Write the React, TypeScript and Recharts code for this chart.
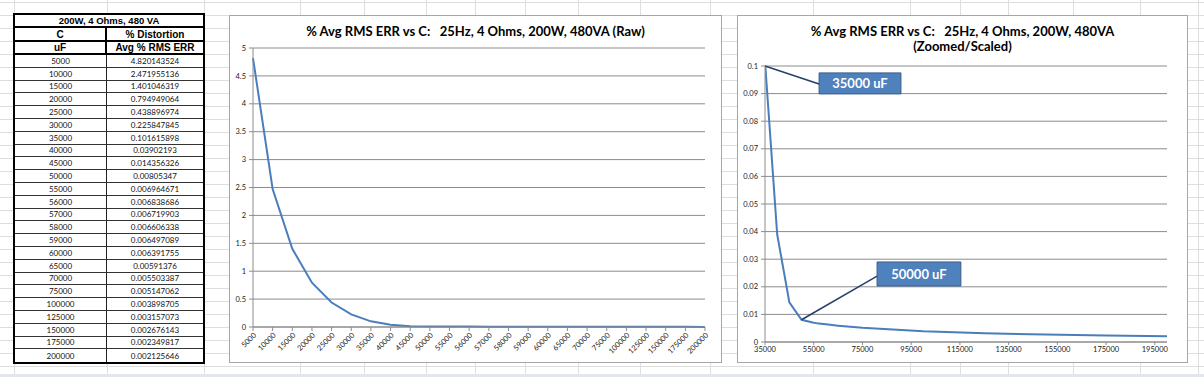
import { LineChart, Line, XAxis, YAxis, CartesianGrid, ReferenceArea, ReferenceLine } from 'recharts';

// capacitance (uF) and average % RMS error, read from the sheet
const capacitance = [
  5000, 10000, 15000, 20000, 25000, 30000, 35000, 40000, 45000, 50000,
  55000, 56000, 57000, 58000, 59000, 60000, 65000, 70000, 75000,
  100000, 125000, 150000, 175000, 200000,
];
const rmsErrText = [
  '4.820143524', '2.471955136', '1.401046319', '0.794949064', '0.438896974',
  '0.225847845', '0.101615898', '0.03902193', '0.014356326', '0.00805347',
  '0.006964671', '0.006838686', '0.006719903', '0.006606338', '0.006497089',
  '0.006391755', '0.00591376', '0.005503387', '0.005147062', '0.003898705',
  '0.003157073', '0.002676143', '0.002349817', '0.002125646',
];
const rmsErr = rmsErrText.map(Number);

const rawTicks = [0, 0.5, 1, 1.5, 2, 2.5, 3, 3.5, 4, 4.5, 5];
const zoomYTicks = [0, 0.01, 0.02, 0.03, 0.04, 0.05, 0.06, 0.07, 0.08, 0.09, 0.1];
const zoomXTicks = [35000, 55000, 75000, 95000, 115000, 135000, 155000, 175000, 195000];

// callout anchors (uF, value where the line is drawn)
const callout35 = { c: 35000, v: 0.1, text: '35000 uF' };
const callout50 = { c: 50000, v: 0.00805347, text: '50000 uF' };

const tableTitle = '200W, 4 Ohms, 480 VA';
const rawTitle = '% Avg RMS ERR vs C:   25Hz, 4 Ohms, 200W, 480VA (Raw)';
const zoomTitle = ['% Avg RMS ERR vs C:   25Hz, 4 Ohms, 200W, 480VA', '(Zoomed/Scaled)'];

const chartData = capacitance.map((c, i) => ({ c, label: String(c), v: rmsErr[i] }));

const FONT = 'Lato, "Open Sans", sans-serif';
const LINE = '#4A7EBB';
const GRID = '#8c8c8c';
const tickStyle = { fontSize: 7.5, fill: '#222', fontFamily: FONT };

// spreadsheet column lines behind everything
const sheetCols = [14, 107, 204, 300, 364, 426, 475, 525, 578, 640, 710, 813, 910, 960, 1008, 1073, 1140, 1198];

const fmt = (v: number) => String(+v.toFixed(2));

const DataTable = () => {
  const cell = (w: number | string, extra = {}) => ({
    width: w, display: 'flex', alignItems: 'center', justifyContent: 'center', boxSizing: 'border-box' as const, ...extra,
  });
  const head = { fontFamily: '"Liberation Sans", Arial, sans-serif', fontWeight: 700, fontSize: 9.5, color: '#000' };
  return (
    <div style={{ position: 'absolute', left: 13, top: 13, width: 192, border: '2px solid #000', boxSizing: 'border-box', background: '#fff' }}>
      <div style={{ height: 13, borderBottom: '2px solid #000', boxSizing: 'border-box', ...cell('100%'), ...head }}>{tableTitle}</div>
      <div style={{ height: 14, display: 'flex', borderBottom: '2px solid #000', boxSizing: 'border-box', ...head, fontSize: 10 }}>
        <div style={cell(92, { borderRight: '2px solid #000' })}>C</div>
        <div style={cell(96)}>% Distortion</div>
      </div>
      <div style={{ height: 13, display: 'flex', borderBottom: '2px solid #000', boxSizing: 'border-box', ...head, fontSize: 10 }}>
        <div style={cell(92, { borderRight: '2px solid #000' })}>uF</div>
        <div style={cell(96)}>Avg % RMS ERR</div>
      </div>
      {capacitance.map((c, i) => (
        <div key={c} style={{
          height: 12.8, display: 'flex', boxSizing: 'border-box',
          borderBottom: i === capacitance.length - 1 ? 'none' : '1px solid #333',
          fontFamily: FONT, fontSize: 8, color: '#111',
        }}>
          <div style={cell(92, { borderRight: '1px solid #222' })}>{c}</div>
          <div style={cell(96)}>{rmsErrText[i]}</div>
        </div>
      ))}
    </div>
  );
};

const boxStyle = (left: number, width: number) => ({
  position: 'absolute' as const, left, top: 15, width, height: 348,
  border: '1px solid #a6a6a6', boxSizing: 'border-box' as const, background: '#fff',
});

const titleStyle = {
  position: 'absolute' as const, left: 0, right: 0, top: 8, textAlign: 'center' as const,
  fontFamily: FONT, fontWeight: 700, fontSize: 13, lineHeight: '15px', color: '#000', whiteSpace: 'pre' as const,
};

const calloutLabel = (value: string) => ({
  value, position: 'center' as const, fill: '#fff', fontSize: 13, fontWeight: 700, fontFamily: FONT,
});

const RawChart = () => (
  <div style={boxStyle(229, 493)}>
    <div style={titleStyle}>{rawTitle}</div>
    <LineChart width={491} height={346} data={chartData} margin={{ top: 32, right: 16, left: 0, bottom: 0 }}>
      <CartesianGrid vertical={false} stroke={GRID} />
      <XAxis dataKey="label" interval={0} height={35} stroke={GRID} tickSize={4} tickMargin={1}
        tick={{ ...tickStyle, angle: -45, textAnchor: 'end' }} />
      <YAxis type="number" domain={[0, 5]} ticks={rawTicks} width={23} stroke={GRID} tickSize={4} tickMargin={3}
        tick={tickStyle} />
      <Line type="linear" dataKey="v" stroke={LINE} strokeWidth={2} dot={false} isAnimationActive={false} />
    </LineChart>
  </div>
);

const ZoomChart = () => (
  <div style={boxStyle(737, 451)}>
    <div style={titleStyle}>{zoomTitle[0]}<br />{zoomTitle[1]}</div>
    <LineChart width={449} height={346} data={chartData} margin={{ top: 50, right: 20, left: 0, bottom: 0 }}>
      <CartesianGrid vertical={false} stroke={GRID} />
      <XAxis dataKey="c" type="number" domain={[35000, 200000]} allowDataOverflow ticks={zoomXTicks} interval={0}
        height={20} stroke={GRID} tickSize={3} tickMargin={2} tick={tickStyle} />
      <YAxis type="number" domain={[0, 0.1]} allowDataOverflow ticks={zoomYTicks} tickFormatter={fmt} width={27}
        stroke={GRID} tickSize={4} tickMargin={3} tick={tickStyle} />
      <Line type="linear" dataKey="v" stroke={LINE} strokeWidth={2} dot={false} isAnimationActive={false} />
      <ReferenceLine segment={[{ x: callout35.c, y: callout35.v }, { x: 57200, y: 0.0935 }]} stroke="#243F6B" strokeWidth={1.5} />
      <ReferenceArea x1={57200} x2={90800} y1={0.0899} y2={0.0975} fill="#4F81BD" fillOpacity={1} stroke="#385D8A" strokeWidth={1}
        label={calloutLabel(callout35.text)} />
      <ReferenceLine segment={[{ x: callout50.c, y: callout50.v }, { x: 81000, y: 0.0239 }]} stroke="#243F6B" strokeWidth={1.5} />
      <ReferenceArea x1={81000} x2={115400} y1={0.0203} y2={0.029} fill="#4F81BD" fillOpacity={1} stroke="#385D8A" strokeWidth={1}
        label={calloutLabel(callout50.text)} />
    </LineChart>
  </div>
);

export default function App() {
  return (
    <div style={{
      position: 'absolute', left: 0, top: 0, width: 1204, height: 377, overflow: 'hidden', background: '#fff',
      backgroundImage: 'repeating-linear-gradient(to bottom, transparent 0px, transparent 2px, #dedede 2px, #dedede 3px, transparent 3px, transparent 13px)',
    }}>
      {sheetCols.map((x) => (
        <div key={x} style={{ position: 'absolute', left: x, top: 0, width: 1, height: 377, background: '#dedede' }} />
      ))}
      <div style={{ position: 'absolute', left: 0, top: 374, width: 1204, height: 3, background: '#e3e6ea' }} />
      <DataTable />
      <RawChart />
      <ZoomChart />
    </div>
  );
}
